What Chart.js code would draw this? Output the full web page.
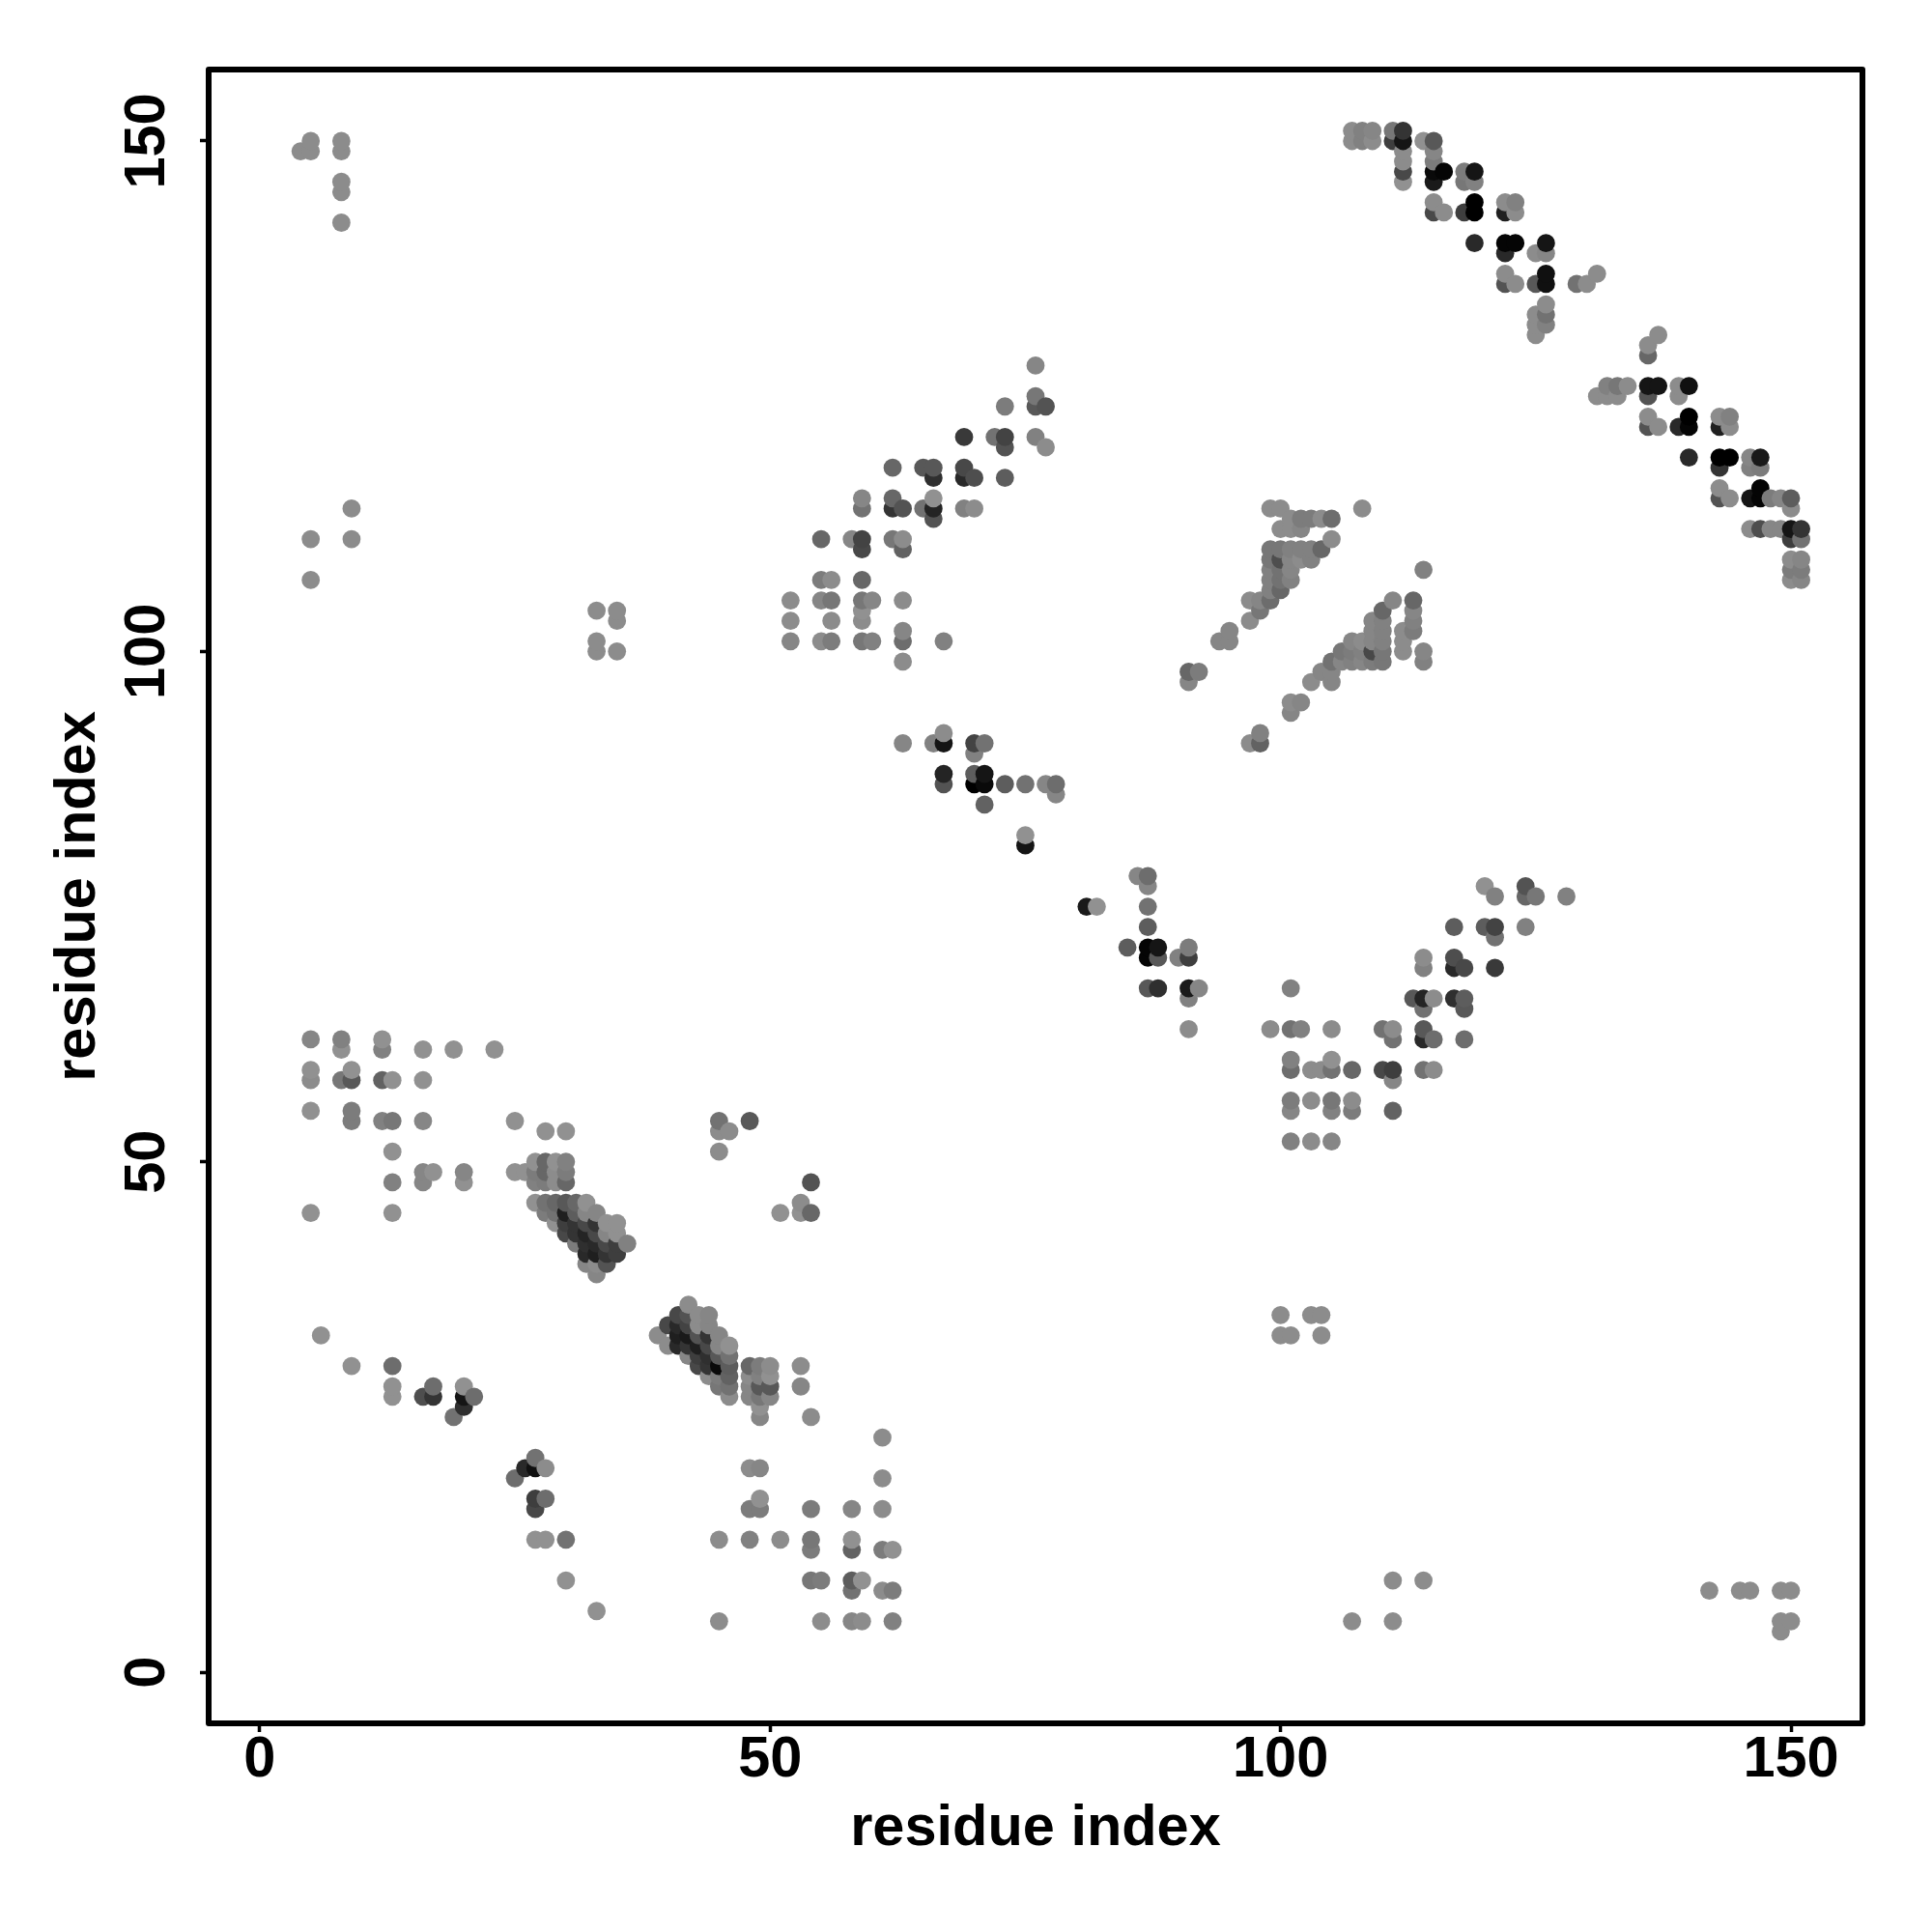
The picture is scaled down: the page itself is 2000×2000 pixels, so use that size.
<!DOCTYPE html>
<html>
<head>
<meta charset="utf-8">
<title>residue contacts</title>
<script src="https://cdn.jsdelivr.net/npm/chart.js@4/dist/chart.umd.min.js"></script>
<style>
  html, body { margin: 0; background: #fff; }
  canvas { display: block; }
</style>
</head>
<body>
<canvas id="contact-map" width="2000" height="2000"></canvas>
<script>
const axisLabel = 'residue index';
const tickValues = [0, 50, 100, 150];

//contact pairs, the three lists go line by line together
const residueA = [
  5,8,8,12,12,16,19,23,5,5,
  9,8,9,12,13,16,5,9,9,12,
  13,16,25,28,30,13,13,16,17,16,
  20,20,25,26,5,13,
  27,28,29,30,27,28,29,30,27,28,29,30,
  27,28,29,30,31,32,
  28,29,30,31,32,33,
  29,30,31,32,33,34,35,
  30,31,32,33,34,35,
  31,32,33,34,35,36,
  32,33,34,35,32,33,34,33,
  6,9,13,13,13,16,17,17,20,21,20,20,19,
  27,26,27,28,25,27,28,27,27,28,30,30,33,
  39,40,40,42,41,41,41,41,
  42,42,42,42,42,
  43,43,43,43,43,43,
  44,44,44,44,44,44,44,
  45,45,45,45,45,45,
  46,46,46,46,46,46,
  48,49,50,48,49,50,48,49,50,48,49,50,49,49,
  53,53,54,61,61,48,49,49,48,49,54,58,61,
  45,48,51,54,54,58,58,61,62,
  54,55,58,59,58,61,62,45,55,58,59,62,
  45,45,46,48,45,54,51,53,53,54,
  120,121,124,124,125,128,117,120,121,121,124,
  114,114,117,117,118,121,101,113,114,115,114,117,118,118,
  99,101,102,105,110,111,111,114,114,115,118,
  101,101,103,104,105,105,107,110,111,111,114,115,
  101,101,103,105,105,107,107,111,101,103,105,
  76,76,76,77,73,69,72,73,73,76,77,
  62,65,66,66,69,69,70,73,
  59,59,62,62,63,65,66,66,66,69,70,
  55,58,59,59,62,63,63,
  55,56,59,52,55,56,59,60,63,59,52,56,59,
  63,52,55,56,59,60,63,67,63,
  91,92,91,63,66,67,67,70,71,70,
  67,67,70,70,71,71,73,75,77,78,78,71,
  75,75,81,82,86,87,87,87,87,85,
  87,88,87,88,90,91,91,
  87,88,91,92,91,91,
  99,100,108,101,102,103,104,105,100,101,102,105,
  99,100,101,102,103,104,99,100,101,102,103,
  99,100,101,99,100,101,99,100,97,98,99,98,97,95,94,95,
  111,110,113,113,113,113,114,109,110,109,110,
  107,108,109,110,112,112,112,114,114,
  106,107,108,109,110,105,106,107,108,109,110,
  104,105,103,105,101,102,101,98,97,98,
  107,107,108,108,109,109,111,112,111,112,114,115,
  112,112,112,112,115,115,115,116,115,118,119,118,119,
  115,116,115,118,119,119,122,123,122,123,
  119,122,123,122,125,126,126,
  122,122,123,125,126,126,129,130,131,
  126,126,126,125,125,125,137,136,136,
  131,132,132,133,133,134,136,137,136,139,140,139,
  136,136,137,139,140,140,143,144,143,144,
  140,143,144,143,146,147,146,147,
  143,143,144,146,147,147,148,149,150,150,
  146,147,148,149,150,151,150,151,
  150,151,150,151,150,151,
  4,5,5,8,8,8,8,8,9,5,9,5,
  33,35,35,33,33,35,100,103,104,100,101,104,
  107,111,111,114,142,145,146,149,150,149,150,149
];
const residueB = [
  62,62,61,62,61,61,61,61,59,58,
  59,58,58,58,58,58,55,55,54,54,
  54,54,54,53,53,51,48,49,49,48,
  49,48,49,49,45,45,
  50,50,50,50,49,49,49,49,48,48,48,48,
  46,46,46,46,46,46,
  45,45,45,45,45,45,
  44,44,44,44,44,44,44,
  43,43,43,43,43,43,
  42,42,42,42,42,42,
  41,41,41,41,40,40,40,39,
  33,30,30,28,27,27,28,27,28,27,27,26,25,
  21,20,20,20,19,17,17,16,13,13,13,9,6,
  33,34,32,36,35,34,33,32,
  35,34,33,32,31,
  35,34,33,32,31,30,
  35,34,33,32,31,30,29,
  33,32,31,30,29,28,
  32,31,30,29,28,27,
  30,30,30,29,29,29,28,28,28,27,27,27,26,25,
  30,28,25,23,19,20,20,17,16,16,16,16,16,
  13,13,13,13,12,13,12,12,12,
  9,9,9,9,8,8,8,5,5,5,5,5,
  54,53,53,54,51,48,45,46,45,45,
  77,76,77,76,76,76,73,73,73,72,73,
  70,69,70,69,69,69,67,66,66,66,65,66,66,65,
  63,63,63,63,63,63,62,63,62,62,62,
  60,59,59,59,60,59,59,59,59,58,59,59,
  56,55,56,56,55,56,55,55,52,52,52,
  128,125,124,124,124,121,121,121,120,121,120,
  118,118,118,117,118,117,117,117,
  115,114,115,114,114,114,115,114,113,114,114,
  111,111,111,110,111,111,110,
  107,107,107,105,105,105,105,105,105,104,103,103,103,
  102,101,101,101,101,101,101,101,99,
  98,98,97,91,91,92,91,91,91,90,
  88,87,88,87,88,87,87,87,87,87,86,85,
  82,81,75,75,78,78,77,75,73,71,
  71,71,70,70,70,71,70,
  67,67,67,67,66,63,
  114,114,114,113,113,113,113,113,112,112,112,111,
  110,110,110,110,110,110,109,109,109,109,109,
  108,108,108,107,107,107,106,106,105,105,105,104,103,102,101,101,
  105,104,105,104,103,102,108,103,103,102,102,
  101,101,101,101,102,101,100,100,99,
  100,100,100,100,100,99,99,99,99,99,99,
  98,98,97,97,95,95,94,92,91,91,
  151,150,151,150,151,150,151,151,150,150,150,150,
  149,148,147,146,149,148,147,147,146,147,147,146,146,
  144,143,143,143,144,143,144,144,143,143,
  140,140,140,139,139,140,139,
  137,136,136,136,137,136,136,136,137,
  134,133,132,133,132,131,131,130,129,
  125,126,125,126,125,126,126,126,125,126,126,125,
  123,122,122,122,123,122,123,123,122,122,
  119,119,119,118,119,119,118,118,
  116,115,115,115,116,115,115,115,115,114,
  112,112,112,112,112,112,111,111,
  109,109,108,108,107,107,
  149,150,149,150,149,146,145,142,114,111,111,107,
  104,104,103,101,100,100,35,35,35,33,33,33,
  5,5,9,9,8,8,8,8,8,5,5,4
];
//how strong each contact looks, 0 is the palest grey and 145 is black
const contactScore = [
  15,20,5,5,20,5,5,5,5,10,
  5,30,60,50,5,5,5,25,25,20,
  30,15,5,5,5,5,20,15,5,15,
  15,5,5,5,5,5,
  5,45,5,20,25,45,10,25,20,25,10,45,
  5,35,45,60,45,5,
  25,35,115,55,15,15,
  5,85,95,75,95,5,5,
  75,95,110,75,15,5,
  25,100,105,75,85,20,
  105,115,95,85,15,10,65,15,
  5,5,40,5,5,70,40,95,5,40,125,100,35,
  35,105,130,10,40,85,40,75,5,5,35,5,5,
  10,75,10,10,75,105,115,105,
  65,80,120,95,15,
  10,10,65,115,85,75,
  15,15,95,75,100,95,10,
  15,15,60,135,25,30,
  5,35,55,50,35,10,
  45,25,10,10,20,5,15,60,60,15,30,15,5,15,
  10,15,10,10,10,10,15,5,25,25,25,15,10,
  10,20,10,30,25,5,50,25,5,
  30,25,55,5,35,10,25,10,10,15,10,20,
  35,10,10,60,10,65,5,10,5,45,
  5,20,65,45,30,20,55,55,80,35,20,
  10,20,70,105,75,90,20,60,110,10,35,100,55,60,
  10,35,20,10,35,10,35,60,105,40,40,
  20,40,10,10,5,35,45,75,85,15,35,10,
  25,15,10,30,20,10,25,50,20,10,15,
  15,30,60,65,25,90,35,80,65,20,10,
  45,60,60,100,75,105,70,55,
  15,35,45,95,65,35,5,110,65,20,10,
  45,15,80,75,30,10,50,
  25,10,45,10,15,30,30,15,10,5,10,10,10,
  15,15,10,25,30,20,40,20,10,
  45,25,15,15,20,10,125,80,35,20,
  110,65,55,145,125,135,55,35,15,40,15,50,
  5,125,120,5,15,40,15,35,55,55,
  140,125,140,60,20,25,85,
  60,100,120,15,20,10,
  10,10,10,10,25,25,10,40,10,10,15,10,
  30,30,20,20,20,45,30,70,15,10,20,
  20,35,15,20,35,20,20,45,10,15,40,30,10,15,15,15,
  15,45,45,15,20,25,20,15,20,15,20,
  15,10,15,20,10,10,10,15,20,
  30,25,20,75,30,35,15,20,15,25,30,
  15,15,10,15,10,15,15,20,10,50,
  10,10,20,20,15,10,30,95,85,125,5,60,
  10,10,75,5,15,25,135,140,120,25,125,30,20,
  10,10,75,85,145,145,10,20,115,10,
  105,140,140,105,10,125,15,
  10,65,10,60,130,130,35,10,10,
  10,35,20,10,10,10,10,10,45,
  10,20,10,30,10,10,125,125,65,10,130,10,
  10,65,10,105,145,140,10,20,115,10,
  105,145,145,95,15,120,20,25,
  10,65,10,125,140,140,25,15,55,10,
  10,70,15,15,125,95,85,35,
  10,15,25,25,10,15,
  10,10,10,10,10,10,10,10,10,10,10,10,
  10,10,10,10,10,10,10,10,10,10,10,10,
  10,10,10,10,10,10,10,10,10,10,10,10
];

//later residues paint over earlier ones in the reference
const contacts = residueA.map(function(a, i) {
  return {x: a, y: residueB[i], score: contactScore[i]};
}).sort(function(p, q) {
  return p.x - q.x || p.y - q.y;
});

function shade(score) {
  const g = Math.round(150 * (1 - score / 145));
  return 'rgb(' + g + ',' + g + ',' + g + ')';
}

function keepTicks(scale) {
  scale.ticks = tickValues.map(function(v) { return {value: v}; });
}

const labelFont = {family: '"Liberation Sans", Arial, sans-serif', size: 59.5, weight: 'bold'};

//box round the plot, chart.js only has the two axis lines
const framePlugin = {
  id: 'frame',
  afterDatasetsDraw(chart) {
    const a = chart.chartArea;
    const c = chart.ctx;
    c.save();
    c.strokeStyle = '#000';
    c.lineWidth = 6;
    c.lineJoin = 'round';
    c.strokeRect(a.left, a.top, a.right - a.left, a.bottom - a.top);
    c.restore();
  }
};

new Chart(document.getElementById('contact-map'), {
  type: 'scatter',
  data: {
    datasets: [{
      data: contacts,
      pointRadius: 9.4,
      pointHoverRadius: 9.4,
      pointBorderWidth: 0,
      pointBackgroundColor: contacts.map(function(p) { return shade(p.score); })
    }]
  },
  options: {
    responsive: false,
    animation: false,
    devicePixelRatio: 1,
    layout: {padding: {top: 72, right: 72, left: 0, bottom: 0}},
    plugins: {legend: {display: false}, tooltip: {enabled: false}},
    scales: {
      x: {
        type: 'linear',
        min: -5,
        max: 157,
        afterBuildTicks: keepTicks,
        afterFit(scale) { scale.height = 216; },
        border: {display: false},
        grid: {drawOnChartArea: false, tickColor: '#000', tickWidth: 3.5, tickLength: 9},
        ticks: {color: '#000', font: labelFont, padding: -6, maxRotation: 0, autoSkip: false},
        title: {display: true, text: axisLabel, color: '#000', font: labelFont, padding: {top: 0, bottom: 71}}
      },
      y: {
        type: 'linear',
        min: -5,
        max: 157,
        afterBuildTicks: keepTicks,
        afterFit(scale) { scale.width = 216; },
        border: {display: false},
        grid: {drawOnChartArea: false, tickColor: '#000', tickWidth: 3.5, tickLength: 9},
        ticks: {color: '#000', font: labelFont, padding: 4, minRotation: 90, maxRotation: 90, crossAlign: 'center', autoSkip: false},
        title: {display: true, text: axisLabel, color: '#000', font: labelFont, padding: {top: 46, bottom: 0}}
      }
    }
  },
  plugins: [framePlugin]
});
</script>
</body>
</html>
